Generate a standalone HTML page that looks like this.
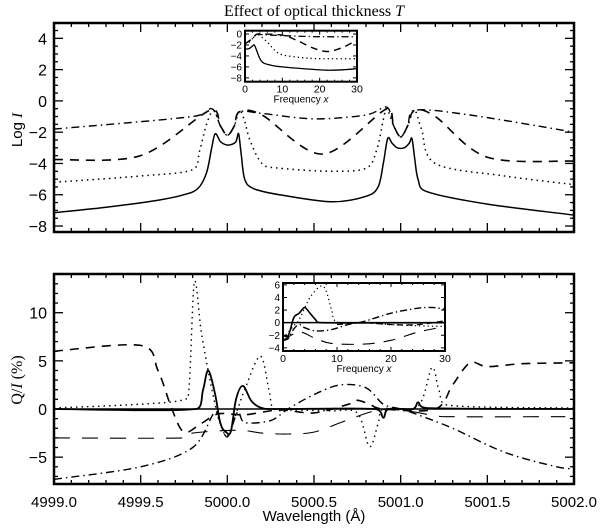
<!DOCTYPE html>
<html><head><meta charset="utf-8">
<style>
html,body{margin:0;padding:0;background:#fff;}
svg{display:block;font-family:"Liberation Sans",sans-serif;}
</style></head>
<body>
<svg id="chart" width="600" height="530" viewBox="0 0 600 530">
<text x="314" y="16" text-anchor="middle" font-family="Liberation Serif, serif" font-size="16">Effect of optical thickness <tspan font-style="italic">T</tspan></text>
<text x="0" y="0" transform="translate(22,130) rotate(-90)" text-anchor="middle" font-size="15">Log <tspan font-style="italic" font-family="Liberation Serif, serif">I</tspan></text>
<text x="0" y="0" transform="translate(22,380) rotate(-90)" text-anchor="middle" font-size="16" font-family="Liberation Serif, serif">Q/<tspan font-style="italic">I</tspan> (%)</text>
<text x="314" y="521" text-anchor="middle" font-size="15">Wavelength (Å)</text>
<g id="layer"></g>
</svg>
<script>
// ---------- data ----------
const wlTicks = [4999.0, 4999.5, 5000.0, 5000.5, 5001.0, 5001.5, 5002.0];
const wlTickLabels = ["4999.0","4999.5","5000.0","5000.5","5001.0","5001.5","5002.0"];
const topYTicks = [-8,-6,-4,-2,0,2,4];
const botYTicks = [-5,0,5,10];
const freqTicks = [0,10,20,30];
const topInsetYTicks = [0,-2,-4,-6,-8];
const botInsetYTicks = [6,4,2,0,-2,-4];

const topSolidWl = [4999,4999.3,4999.6,4999.75,4999.83,4999.88,4999.91,4999.93,4999.96,4999.99,5000.02,5000.05,5000.065,5000.08,5000.1,5000.15,5000.3,5000.6,5000.8,5000.87,5000.9,5000.925,5000.95,5000.98,5001.02,5001.05,5001.065,5001.08,5001.1,5001.15,5001.5,5002];
const topSolidVal = [-7.15,-6.8,-6.35,-6.0,-5.6,-4.6,-3.0,-2.1,-2.6,-2.8,-2.8,-2.6,-2.1,-3.4,-5.0,-5.6,-6.0,-6.45,-6.1,-5.5,-4.0,-2.4,-2.7,-3.0,-3.0,-2.7,-2.4,-3.6,-5.0,-5.8,-6.6,-7.3];
const topDotWl = [4999,4999.5,4999.8,4999.84,4999.88,4999.92,4999.96,5000.0,5000.04,5000.07,5000.1,5000.13,5000.2,5000.3,5000.6,5000.8,5000.86,5000.9,5000.92,5000.96,5001.0,5001.04,5001.08,5001.12,5001.2,5001.6,5002];
const topDotVal = [-5.2,-4.8,-4.4,-3.2,-1.5,-0.6,-1.6,-2.2,-1.6,-0.6,-1.3,-2.5,-4.0,-4.3,-4.5,-4.3,-3.2,-1.2,-0.5,-1.6,-2.3,-1.6,-0.6,-1.8,-4.0,-4.8,-5.35];
const topDashWl = [4999,4999.5,4999.9,4999.96,5000.0,5000.04,5000.07,5000.2,5000.55,5000.92,5000.96,5001.0,5001.04,5001.08,5001.2,5001.5,5002];
const topDashVal = [-3.75,-3.5,-0.6,-1.6,-2.2,-1.6,-0.7,-0.9,-3.4,-0.5,-1.6,-2.3,-1.6,-0.6,-1.0,-3.6,-3.85];
const topDashDotWl = [4999,4999.8,4999.91,4999.96,5000.0,5000.04,5000.07,5000.2,5000.5,5000.8,5000.92,5000.96,5001.0,5001.04,5001.08,5001.4,5002];
const topDashDotVal = [-1.8,-1.0,-0.5,-1.6,-2.2,-1.6,-0.7,-0.8,-1.15,-0.9,-0.4,-1.6,-2.3,-1.6,-0.6,-0.9,-2.0];

const tiSolidF = [0,1,2,2.5,3,4,5,7,10,15,22,27,30];
const tiSolidV = [-2.7,-2.7,-2.2,-2.0,-2.8,-4.5,-5.3,-5.7,-6.0,-6.3,-6.6,-6.5,-6.3];
const tiDotF = [0,1,2,3,4,6,8,10,15,20,30];
const tiDotV = [-1.8,-1.6,-0.8,-0.1,-0.3,-1.5,-3.0,-3.8,-4.3,-4.5,-4.5];
const tiDashF = [0,2,3,4,10,14,18,22,26,30];
const tiDashV = [-1.8,-0.8,-0.1,0,-0.2,-1.2,-2.5,-3.2,-2.5,-1.1];
const tiDashDotF = [0,2,3,4,10,20,30];
const tiDashDotV = [-1.8,-0.8,-0.1,-0.1,-0.3,-0.5,-0.5];

const botSolidWl = [4999,4999.82,4999.86,4999.89,4999.93,4999.96,4999.99,5000.02,5000.05,5000.09,5000.14,5000.2,5000.3,5000.85,5000.9,5000.93,5001.07,5001.1,5001.15,5002];
const botSolidVal = [0,0,2,4.0,1.5,-1.5,-2.35,-2.35,1.0,2.4,0.8,0.1,0,0,-0.9,0,0,0.7,0.1,0];
const botDotWl = [4999,4999.5,4999.75,4999.78,4999.81,4999.85,4999.9,4999.95,5000.0,5000.05,5000.1,5000.19,5000.24,5000.27,5000.4,5000.6,5000.75,5000.82,5000.87,5000.9,5001.1,5001.18,5001.22,5001.27,5002];
const botDotVal = [0.1,0.5,1.0,2.5,13.2,8,3,-1,-2.8,-0.5,2,5.5,2,0,-0.1,-0.2,-0.4,-3.9,-1.5,0,0.3,4.3,2,0.4,0.1];
const botLongWl = [4999,4999.75,4999.8,5000.06,5000.2,5000.35,5000.5,5000.67,5000.85,5001.0,5001.2,5001.3,5001.95];
const botLongVal = [-3,-3,-2.5,-2.2,-2.5,-2.6,-2.4,-1.3,-0.2,-0.1,-0.7,-0.8,-0.8];
const botDashWl = [4999,4999.5,4999.6,4999.68,4999.75,4999.85,4999.95,5000.1,5000.3,5000.5,5000.7,5000.75,5000.82,5000.9,5001.2,5001.3,5001.4,5001.5,5001.7,5002];
const botDashVal = [6,6.6,4,0,-2.4,-1.5,-0.5,-0.6,-0.1,-0.4,0.5,0.9,0.5,0,0,2.5,4.8,4.4,4.7,4.8];
const botDashDotWl = [4999,4999.5,4999.8,4999.92,4999.95,5000.0,5000.06,5000.1,5000.25,5000.35,5000.5,5000.65,5000.8,5000.9,5001.0,5001.1,5001.3,5001.6,5001.9,5002];
const botDashDotVal = [-7.3,-6.0,-4.0,-0.5,-1.0,-2.9,-0.3,-1.4,-1.2,0,1.5,2.5,2.2,0.5,0,-0.6,-2.0,-4.5,-6.0,-6.2];

const biSolidF = [0,1,2,3,4,5,6,7,30];
const biSolidV = [-2,-2,0.8,1.5,2.4,1.5,0.5,0,0];
const biThickF = [0,1,2,3,4,6,9,12,15,20,25,28,30];
const biThickV = [-2.8,-2.5,-1,-0.3,-0.8,-1.3,-1.1,-0.3,0.2,1.5,2.3,2.4,2.1];
const biDotF = [0,2,3,5,7,8,9,10,15,20,25,30];
const biDotV = [-2.5,-0.5,0.5,4,5.8,5,2,0.1,0,-0.3,-0.5,-0.6];
const biLongF = [0,3,6,9,15,20,25,30];
const biLongV = [-2.8,-1.5,-2.5,-3.3,-3.4,-2.8,-1.5,-0.6];
const biDashF = [10,15,20,25,30];
const biDashV = [-0.3,0,-0.3,-0.3,0.3];

// ---------- helpers ----------
const NS = "http://www.w3.org/2000/svg";
const layer = document.getElementById('layer');
function mk(tag, attrs, parent){ const e=document.createElementNS(NS,tag); for(const k in attrs) e.setAttribute(k,attrs[k]); (parent||layer).appendChild(e); return e; }
function lin(d0,d1,r0,r1){ return v => r0 + (v-d0)/(d1-d0)*(r1-r0); }

function frame(x0,y0,x1,y1,sw,name){
  const r = mk('rect',{x:x0,y:y0,width:x1-x0,height:y1-y0,fill:'none',stroke:'#000','stroke-width':sw});
  
  
}
function tick(x1,y1,x2,y2,w){ const t=mk('line',{x1,y1,x2,y2,stroke:'#000','stroke-width':w});   }
function label(x,y,s,size,anchor,name){ const t=mk('text',{x,y,'font-size':size,'text-anchor':anchor}); t.textContent=s;   }
function clampPt(c,a,b){
  const lo=Math.min(a[0],b[0]), hi=Math.max(a[0],b[0]);
  if(c[0]<lo||c[0]>hi){ const nx=Math.max(lo,Math.min(hi,c[0])); const f=(nx-a[0])/((c[0]-a[0])||1); return [nx, a[1]+(c[1]-a[1])*f]; }
  return c;
}
function series(xs,ys,sx,sy,dash,w,name){
  const P=xs.map((x,i)=>[sx(x),sy(ys[i])]);
  let d='M'+P[0][0].toFixed(1)+','+P[0][1].toFixed(1);
  const k=0.16;
  for(let i=0;i<P.length-1;i++){
    const p0=P[Math.max(0,i-1)], p1=P[i], p2=P[i+1], p3=P[Math.min(P.length-1,i+2)];
    let c1=[p1[0]+(p2[0]-p0[0])*k, p1[1]+(p2[1]-p0[1])*k];
    let c2=[p2[0]-(p3[0]-p1[0])*k, p2[1]-(p3[1]-p1[1])*k];
    c1=clampPt(c1,p1,p2); c2=clampPt(c2,p2,p1);
    d+='C'+c1[0].toFixed(1)+','+c1[1].toFixed(1)+' '+c2[0].toFixed(1)+','+c2[1].toFixed(1)+' '+p2[0].toFixed(1)+','+p2[1].toFixed(1);
  }
  const p=mk('path',{d,fill:'none',stroke:'#000','stroke-width':w,'stroke-dasharray':dash,'stroke-linejoin':'round'});
  
  
}

const PX0=54, PX1=574;
const sx = lin(4999,5002,PX0,PX1);
const T0=23, T1=232; const sy1 = lin(0,-1,100.9,116.54);
const B0=274, B1=484; const sy2 = lin(0,-1,409,418.63);

function mainAxes(y0,y1,sy,yTicks,yMinStep,yMin,yMax,showX,prefix){
  frame(PX0,y0,PX1,y1,2.5,prefix+'-plot-frame');
  for(let v=4999; v<=5002.001; v+=0.1){
    const x=sx(v); const major=Math.abs(v*2-Math.round(v*2))<1e-6; const L=major?9:4;
    tick(x,y1,x,y1-L,1.3); tick(x,y0,x,y0+L,1.3);
  }
  for(let v=Math.ceil(yMin/yMinStep)*yMinStep; v<=yMax+1e-9; v+=yMinStep){
    const y=sy(v); const major=yTicks.some(t=>Math.abs(t-v)<1e-6); const L=major?9:4;
    tick(PX0,y,PX0+L,y,1.3); tick(PX1,y,PX1-L,y,1.3);
  }
  yTicks.forEach(t=>label(PX0-7, sy(t)+6, t<0?'\u2212'+Math.abs(t):String(t), 16,'end',prefix+'-y-tick-label'));
  if(showX) wlTicks.forEach((t,i)=>label(sx(t), 507, wlTickLabels[i], 15,'middle','x-tick-label'));
}
mainAxes(T0,T1,sy1,topYTicks,0.5,-8.4,5,false,'top');
mainAxes(B0,B1,sy2,botYTicks,1,-7.9,14,true,'bottom');

series(topSolidWl,topSolidVal,sx,sy1,'none',1.5,'top-series-solid');
series(topDotWl,topDotVal,sx,sy1,'1.5,4',1.5,'top-series-dotted');
series(topDashWl,topDashVal,sx,sy1,'9,7',1.6,'top-series-dashed');
series(topDashDotWl,topDashDotVal,sx,sy1,'8,4,1.5,4',1.4,'top-series-dash-dot');

const z=mk('line',{x1:PX0,y1:sy2(0),x2:PX1,y2:sy2(0),stroke:'#000','stroke-width':1.6});
 
series(botSolidWl,botSolidVal,sx,sy2,'none',1.8,'bottom-series-solid');
series(botDotWl,botDotVal,sx,sy2,'1.5,4',1.4,'bottom-series-dotted');
series(botLongWl,botLongVal,sx,sy2,'16,12',1.1,'bottom-series-long-dash');
series(botDashWl,botDashVal,sx,sy2,'9,7',1.6,'bottom-series-dashed');
series(botDashDotWl,botDashDotVal,sx,sy2,'8,4,1.5,4',1.4,'bottom-series-dash-dot');

function inset(x0,x1,y0,y1,fmin,fmax,vTop,vBot,yTicks,name){
  const fx=lin(fmin,fmax,x0,x1); const fy=lin(vTop,vBot,y0,y1);
  const bg=mk('rect',{x:x0,y:y0,width:x1-x0,height:y1-y0,fill:'#fff'});
   
  for(let f=0; f<=30; f+=2){ const L=(f%10===0)?4:2; tick(fx(f),y1,fx(f),y1-L,1); tick(fx(f),y0,fx(f),y0+L,1); }
  yTicks.forEach(t=>{ tick(x0,fy(t),x0+4,fy(t),1); tick(x1,fy(t),x1-4,fy(t),1);
    label(x0-3, fy(t)+3.5, t<0?'\u2212'+Math.abs(t):String(t), 10,'end',name+'-y-tick-label'); });
  freqTicks.forEach(t=>label(fx(t), y1+11, String(t), 10.5,'middle',name+'-x-tick-label'));
  const tt=mk('text',{x:(x0+x1)/2,y:y1+21,'font-size':10,'text-anchor':'middle'});
  tt.textContent='Frequency '; const ts=document.createElementNS(NS,'tspan'); ts.setAttribute('font-style','italic'); ts.textContent='x'; tt.appendChild(ts);
   
  return {fx,fy,close:()=>frame(x0,y0,x1,y1,2,name+'-frame')};
}
const ti = inset(245,357,30.7,81.7,0,30,0.6,-8.7,topInsetYTicks,'top-inset');
series(tiSolidF,tiSolidV,ti.fx,ti.fy,'none',1.3,'top-inset-solid');
series(tiDotF,tiDotV,ti.fx,ti.fy,'1.3,3',1.3,'top-inset-dotted');
series(tiDashF,tiDashV,ti.fx,ti.fy,'7,5',1.4,'top-inset-dashed');
series(tiDashDotF,tiDashDotV,ti.fx,ti.fy,'7,3,1.3,3',1.3,'top-inset-dash-dot');
ti.close();

const bi = inset(283,445,283,351,0,30,6.3,-4.5,botInsetYTicks,'bottom-inset');
const bz=mk('line',{x1:283,y1:bi.fy(0),x2:445,y2:bi.fy(0),stroke:'#000','stroke-width':1.5});
 
series(biSolidF,biSolidV,bi.fx,bi.fy,'none',1.6,'bottom-inset-solid');
series(biThickF,biThickV,bi.fx,bi.fy,'7,3,1.3,3',1.4,'bottom-inset-dash-dot');
series(biDotF,biDotV,bi.fx,bi.fy,'1.3,3',1.2,'bottom-inset-dotted');
series(biLongF,biLongV,bi.fx,bi.fy,'12,9',1.1,'bottom-inset-long-dash');
series(biDashF,biDashV,bi.fx,bi.fy,'6,4',1.3,'bottom-inset-dashed');
bi.close();
</script>
</body></html>
